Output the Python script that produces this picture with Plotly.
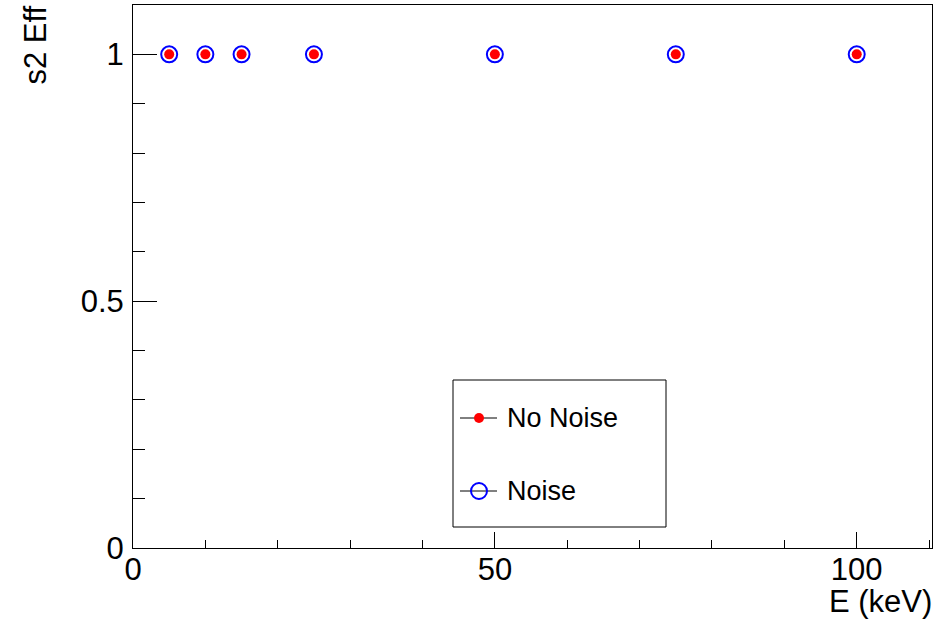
import plotly.graph_objects as go

# Signal-2 efficiency vs. energy, with and without noise
energy_kev = [5, 10, 15, 25, 50, 75, 100]
eff_noise = [1, 1, 1, 1, 1, 1, 1]
eff_no_noise = [1, 1, 1, 1, 1, 1, 1]

x_ticks = [0, 50, 100]
y_ticks = [0, 0.5, 1]
y_tick_text = ["0", "0.5", "1"]

FONT = "Liberation Sans, Arial, Helvetica, sans-serif"

fig = go.Figure()

# Noise: open blue circles (drawn first, underneath)
fig.add_trace(go.Scatter(
    x=energy_kev, y=eff_noise, mode="markers", name="Noise",
    marker=dict(symbol="circle-open", size=16, color="#0000ff",
                line=dict(width=2, color="#0000ff")),
    showlegend=False,
))
# No noise: filled red circles
fig.add_trace(go.Scatter(
    x=energy_kev, y=eff_no_noise, mode="markers", name="No Noise",
    marker=dict(symbol="circle", size=10, color="#ff0000",
                line=dict(width=0)),
    showlegend=False,
))

# Frame geometry in pixels
W, H = 948, 624
L, R, T, B = 133, 16, 5, 76
pw, ph = W - L - R, H - T - B


def px(xp):
    return (xp - L) / pw


def py(yp):
    return (H - B - yp) / ph


# Legend box (ROOT-style TLegend)
fig.add_shape(type="rect", xref="paper", yref="paper",
              x0=px(453), x1=px(666), y0=py(527), y1=py(380),
              line=dict(color="black", width=1), fillcolor="rgba(0,0,0,0)", layer="above")

legend_rows = [
    ("No Noise", 418, dict(symbol="circle", size=10, color="#ff0000", line=dict(width=0))),
    ("Noise", 491, dict(symbol="circle-open", size=16, color="#0000ff",
                        line=dict(width=2, color="#0000ff"))),
]
for label, yrow, mk in legend_rows:
    fig.add_shape(type="line", xref="paper", yref="paper",
                  x0=px(460), x1=px(497), y0=py(yrow), y1=py(yrow),
                  line=dict(color="black", width=1), layer="below")
    fig.add_trace(go.Scatter(
        x=[px(479)], y=[py(yrow)], mode="markers", marker=mk,
        xaxis="x2", yaxis="y2", showlegend=False, hoverinfo="skip",
    ))
    fig.add_annotation(x=px(505), y=py(yrow), xref="paper", yref="paper",
                       text=label, showarrow=False, xanchor="left", yanchor="middle",
                       font=dict(family=FONT, size=27, color="black"))

# Axis titles (right / top aligned as in ROOT)
fig.add_annotation(x=px(934), y=py(601), xref="paper", yref="paper",
                   text="E (keV)", showarrow=False, xanchor="right", yanchor="middle",
                   font=dict(family=FONT, size=31, color="black"))
fig.add_annotation(x=px(35), y=py(4), xref="paper", yref="paper",
                   text="s2 Eff", showarrow=False, textangle=-90,
                   xanchor="center", yanchor="top",
                   font=dict(family=FONT, size=31, color="black"))

fig.update_layout(
    width=W, height=H,
    margin=dict(l=L, r=R, t=T, b=B, pad=0),
    paper_bgcolor="white", plot_bgcolor="white",
    showlegend=False,
    font=dict(family=FONT, size=31, color="black"),
    xaxis=dict(
        range=[0, 110.4], tickvals=x_ticks, ticks="inside", ticklen=16,
        tickwidth=1, tickcolor="black", showgrid=False, zeroline=False,
        showline=True, linecolor="black", linewidth=1, mirror=True,
        tickfont=dict(family=FONT, size=31), ticklabelstandoff=-6,
        minor=dict(dtick=10, ticks="inside", ticklen=8, tickcolor="black", showgrid=False),
    ),
    yaxis=dict(
        range=[0, 1.1], tickvals=y_ticks, ticktext=y_tick_text, ticks="inside",
        ticklen=24, tickwidth=1, tickcolor="black", showgrid=False, zeroline=False,
        showline=True, linecolor="black", linewidth=1, mirror=True,
        tickfont=dict(family=FONT, size=31), ticklabelstandoff=2,
        minor=dict(dtick=0.1, ticks="inside", ticklen=12, tickcolor="black", showgrid=False),
    ),
    xaxis2=dict(range=[0, 1], overlaying="x", visible=False, domain=[0, 1]),
    yaxis2=dict(range=[0, 1], overlaying="y", visible=False, domain=[0, 1]),
)

fig.write_html("out.html")
